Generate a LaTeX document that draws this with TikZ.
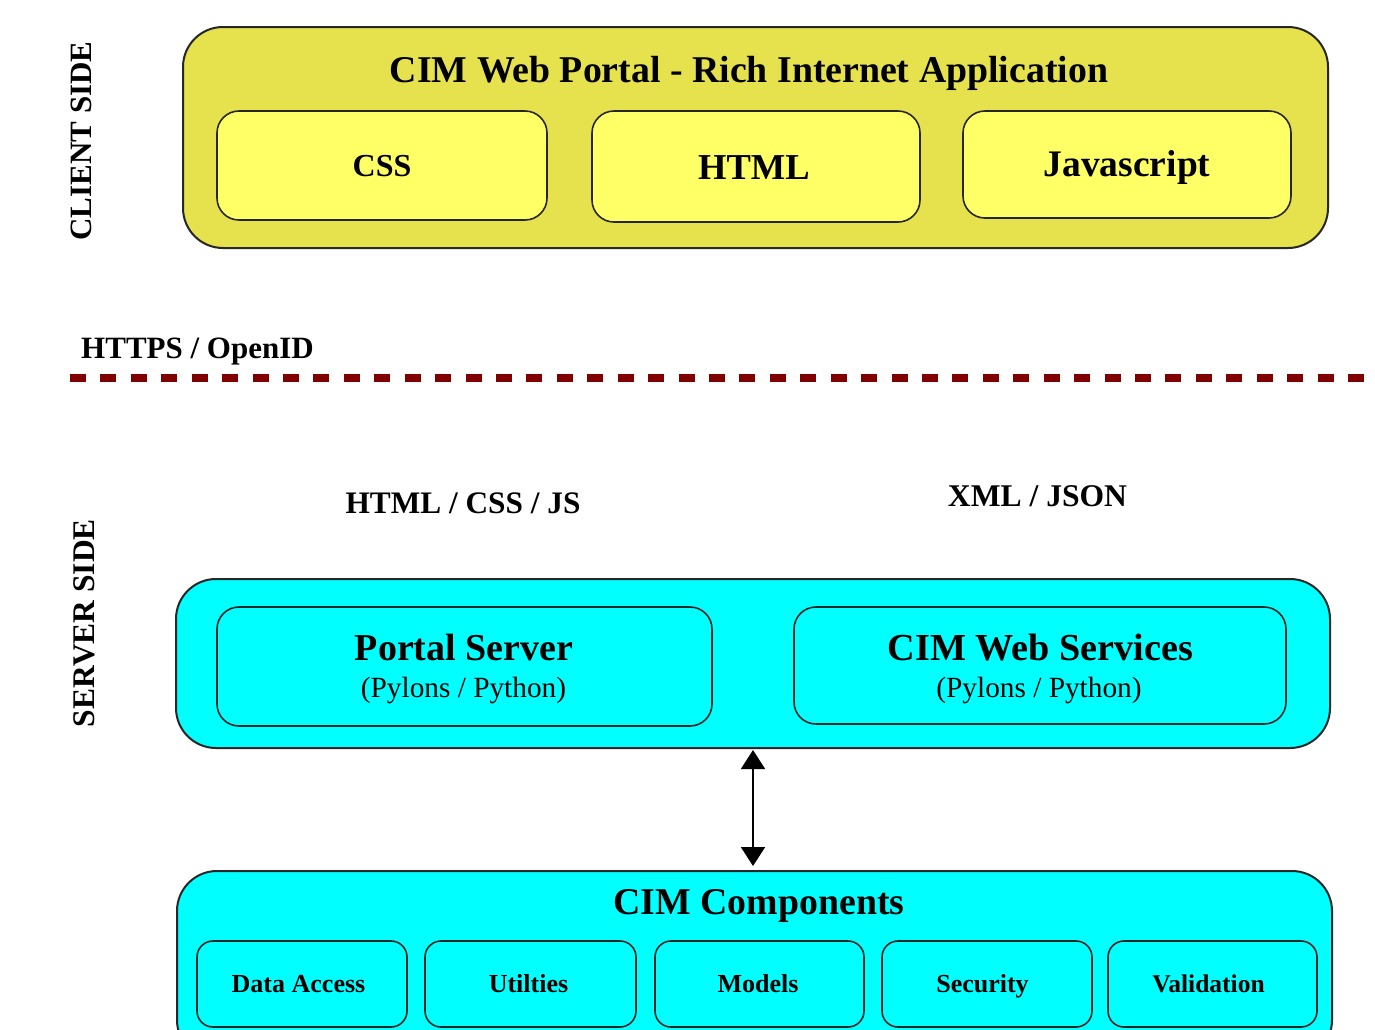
\documentclass[tikz,border=0pt]{standalone}
\usepackage{fontspec}
\setmainfont{Liberation Serif}
\usetikzlibrary{arrows.meta}
\definecolor{outeryellow}{RGB}{229,226,77}
\definecolor{inneryellow}{RGB}{255,255,102}
\definecolor{boxcyan}{RGB}{0,255,255}
\definecolor{linered}{RGB}{128,0,0}
\newcommand{\fs}[1]{\fontsize{#1}{#1}\selectfont}
\tikzset{
  outerbox/.style={draw=black!85, line width=2pt, rounded corners=40pt, inner sep=0pt},
  innerbox/.style={draw=black!85, line width=1.6pt, rounded corners=22pt, inner sep=0pt},
  smallbox/.style={draw=black!85, line width=1.6pt, rounded corners=16pt, inner sep=0pt},
  lbl/.style={inner sep=0pt, anchor=base, font=\bfseries},
  plain/.style={inner sep=0pt, anchor=base},
}
\begin{document}
\begin{tikzpicture}[x=1pt,y=-1pt]
\useasboundingbox (0,0) rectangle (1375,1029);
\clip (0,0) rectangle (1375,1029);
\fill[white] (0,0) rectangle (1375,1029);

% client side
\node[outerbox, fill=outeryellow, minimum width=1145pt, minimum height=221pt] (portal) at (755.5,137.5) {};
\node[lbl] (portaltitle) at (749,82) {\fs{37.8}CIM Web Portal - Rich Internet Application};
\node[innerbox, fill=inneryellow, minimum width=330pt, minimum height=109pt] (css) at (382,165.5) {};
\node[lbl] (csst) at (382,176) {\fs{32}CSS};
\node[innerbox, fill=inneryellow, minimum width=328pt, minimum height=111pt] (html) at (756,166.5) {};
\node[lbl] (htmlt) at (754,179) {\fs{36.5}HTML};
\node[innerbox, fill=inneryellow, minimum width=328pt, minimum height=107pt] (js) at (1127,164.5) {};
\node[lbl] (jst) at (1127,176) {\fs{37.5}Javascript};

\node[lbl, rotate=90, anchor=center] (client) at (81,141) {\fs{31}CLIENT SIDE};
\node[lbl, rotate=90, anchor=center] (server) at (84,623) {\fs{31.5}SERVER SIDE};

\node[lbl] (https) at (197.5,358) {\fs{31}HTTPS / OpenID};
\coordinate (dl) at (70,378);
\coordinate (dr) at (1365,378);
\draw[linered, line width=8.5pt, dash pattern=on 16pt off 14.43pt] (dl) -- (dr);

\node[lbl] (hcj) at (463,513) {\fs{31.3}HTML / CSS / JS};
\node[lbl] (xj) at (1037.5,506) {\fs{31.6}XML / JSON};

% server side
\node[outerbox, fill=boxcyan, minimum width=1154pt, minimum height=169pt] (srv) at (753,663.5) {};
\node[innerbox, fill=boxcyan, minimum width=495pt, minimum height=119pt] (ps) at (464.5,666.5) {};
\node[lbl] (pst) at (464,660) {\fs{38}Portal Server};
\node[plain] (pss) at (463.5,697) {\fs{29.3}(Pylons / Python)};
\node[innerbox, fill=boxcyan, minimum width=492pt, minimum height=117pt] (ws) at (1040,665.5) {};
\node[lbl] (wst) at (1040.5,660) {\fs{38.2}CIM Web Services};
\node[plain] (wss) at (1039,697) {\fs{29.3}(Pylons / Python)};

\node[outerbox, fill=boxcyan, minimum width=1155pt, minimum height=189pt] (comp) at (754.5,965.5) {};
\node[lbl] (compt) at (759,914) {\fs{37.8}CIM Components};
\node[smallbox, fill=boxcyan, minimum width=210pt, minimum height=86pt] (da) at (302,984) {};
\node[lbl] (dat) at (298.5,992) {\fs{26}Data Access};
\node[smallbox, fill=boxcyan, minimum width=211pt, minimum height=86pt] (ut) at (530.5,984) {};
\node[lbl] (utt) at (528.5,992) {\fs{26}Utilties};
\node[smallbox, fill=boxcyan, minimum width=209pt, minimum height=86pt] (mo) at (759.5,984) {};
\node[lbl] (mot) at (758,992) {\fs{26}Models};
\node[smallbox, fill=boxcyan, minimum width=210pt, minimum height=86pt] (se) at (987,984) {};
\node[lbl] (set) at (982.5,992) {\fs{26}Security};
\node[smallbox, fill=boxcyan, minimum width=209pt, minimum height=86pt] (va) at (1212.5,984) {};
\node[lbl] (vat) at (1208.5,992) {\fs{25.5}Validation};

\draw[line width=1.8pt, {Triangle[width=24pt,length=19pt]}-{Triangle[width=24pt,length=19pt]}, shorten <=1pt, shorten >=4pt] (srv.south) -- (srv.south |- comp.north);
\end{tikzpicture}
\end{document}
